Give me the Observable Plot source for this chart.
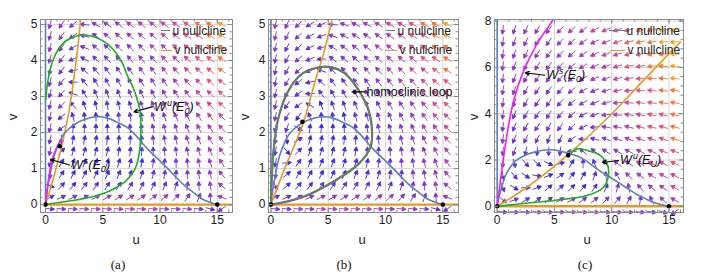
<!DOCTYPE html>
<html><head><meta charset="utf-8">
<script src="https://cdn.jsdelivr.net/npm/d3@7"></script>
<script src="https://cdn.jsdelivr.net/npm/@observablehq/plot@0.6"></script>
<style>
body{margin:0;background:#fff;font-family:"Liberation Sans",Arial,sans-serif;}
#root{position:relative;width:715px;height:276px;overflow:hidden;background:#fff;}
.panel{position:absolute;top:0;}
.lab{position:absolute;font-size:13px;color:#222;width:20px;text-align:center;line-height:16px;}
.cap{position:absolute;font-family:"Liberation Serif",serif;font-size:13px;color:#111;width:30px;text-align:center;line-height:16px;}
.legtxt{position:absolute;font-size:12px;color:#222;line-height:14px;white-space:nowrap;}
.legline{position:absolute;height:0;border-top:1.8px solid;}
</style></head><body><div id="root"></div>
<script>
// ---------- data ----------
const uColsAB = [0.4,1.4,2.4,3.4,4.4,5.4,6.4,7.4,8.4,9.4,10.4,11.4,12.4,13.4,14.4,15.4];
const vRowsAB = [5.0,4.68,4.36,4.04,3.72,3.40,3.08,2.76,2.44,2.12,1.80,1.48,1.16,0.84,0.52,0.20,-0.12];
const uColsC = [0.5,1.5,2.5,3.5,4.5,5.5,6.5,7.5,8.5,9.5,10.5,11.5,12.5,13.5,14.5,15.5];
const vRowsC = [7.62,7.1,6.57,6.05,5.52,5.0,4.47,3.95,3.42,2.9,2.37,1.85,1.32,0.8,0.27,-0.25];

// arrow directions (degrees, counter-clockwise from +u), rows top to bottom
const angA = [
"255 235 220 172 150 145 143 142 142 142 143 145 147 150 152 155",
"255 235 215 165 145 140 139 138 138 139 140 142 144 147 150 153",
"256 234 210 158 140 136 135 134 134 135 136 138 141 144 147 151",
"256 233 203 150 135 132 130 130 130 131 132 135 138 141 144 148",
"257 232 192 140 130 126 125 125 126 127 128 131 134 138 141 146",
"257 231 180 130 122 118 118 119 121 122 124 127 130 134 138 143",
"257 229 160 120 113 110 110 112 115 117 119 123 126 130 135 140",
"258 226 130 108 103 100 102 105 109 111 114 118 122 126 131 137",
"258 220 105 95 92 91 95 98 102 105 108 113 117 122 127 134",
"258 215 88 88 88 90 92 96 100 102 104 107 112 117 122 131",
"258 270 82 80 80 82 85 88 92 95 98 102 107 112 118 128",
"259 45 76 75 76 78 80 83 86 90 93 97 102 107 113 125",
"259 60 70 70 71 73 75 77 80 84 88 92 97 102 108 122",
"270 58 64 64 65 67 68 70 73 76 80 86 92 97 103 130",
"340 48 52 53 55 57 58 60 62 65 68 74 82 92 98 140",
"25 25 26 27 28 30 32 33 35 37 40 45 55 70 95 160",
"-5 -5 -5 -5 -5 -5 -5 -5 -5 -5 -5 -5 -5 -5 -15 215"];
const magA = [
"4433444555667889","4433344455667789","4333334445566788","4332333444556778",
"3322233344556678","3322223334455677","3322222333445667","3321122233445567",
"3211112223344566","3211111223344556","3111111122334456","3111111122233455",
"2111111112233445","2111111112223345","2112222222223344","2233444444433334",
"2344555555444323"];

const angB = [
"258 245 225 212 205 175 160 155 152 150 150 151 152 153 155 157",
"258 244 224 209 200 160 152 148 146 145 145 147 148 150 152 155",
"258 243 223 206 192 150 145 143 141 140 141 143 145 147 149 152",
"259 242 222 203 182 142 140 138 136 136 137 139 141 144 146 150",
"259 241 221 199 160 135 133 132 131 131 133 135 137 140 143 147",
"259 240 219 192 140 127 126 126 125 126 128 131 133 137 140 145",
"259 238 217 182 125 118 118 119 119 121 123 126 129 133 137 142",
"259 236 215 150 110 108 110 111 113 115 118 121 125 129 133 139",
"260 240 235 110 92 96 100 104 106 109 112 116 120 125 129 136",
"260 250 330 84 85 88 92 97 100 103 106 110 115 120 125 133",
"260 275 30 78 79 81 84 88 93 96 100 104 109 115 120 130",
"260 310 45 73 74 76 78 81 86 90 94 98 104 110 115 127",
"260 5 55 68 69 71 73 75 79 84 88 93 98 104 110 124",
"270 40 58 63 64 66 67 69 72 75 80 86 93 99 105 130",
"300 42 50 54 55 57 58 60 62 65 68 74 84 94 100 140",
"25 25 27 27 28 30 32 33 35 38 42 48 58 72 96 160",
"-5 -5 -5 -5 -5 -5 -5 -5 -5 -5 -5 -5 -5 -5 -15 215"];
const magB = [
"4443334455667889","4433333445567789","4333333445566788","3333233344556778",
"3332223344556678","3322222334455677","3322222333445667","3221112233445567",
"3211111223344566","2211111223344556","2111111122334456","2111111122233455",
"2111111112233445","2111111112223345","2112222222223344","2233444444433334",
"2344555555444323"];

const angC = [
"262 252 245 240 235 228 222 215 208 203 200 197 195 193 191 189",
"262 252 245 240 235 228 221 214 207 202 199 196 194 191 189 185",
"262 252 244 239 234 227 220 213 206 201 198 195 192 189 185 179",
"262 251 244 238 234 227 219 212 205 200 197 193 190 185 178 176",
"262 251 243 237 234 227 219 211 204 199 195 191 185 178 176 174",
"262 250 242 236 235 228 219 210 203 197 193 185 177 175 173 172",
"262 250 241 235 236 229 220 209 201 195 185 176 173 172 170 170",
"262 249 240 235 238 231 221 208 198 185 175 172 169 168 167 168",
"262 248 240 237 242 235 224 205 185 170 168 166 165 165 164 166",
"263 247 245 245 250 245 215 180 165 160 160 160 160 161 161 163",
"263 250 258 265 268 262 180 140 140 148 152 154 155 157 158 160",
"265 285 310 320 335 15 60 90 110 130 142 147 150 152 154 157",
"280 310 325 350 20 35 50 60 70 95 120 137 143 147 150 154",
"290 330 0 20 40 42 45 50 55 65 75 100 130 140 145 150",
"320 20 30 35 38 30 30 35 38 45 50 60 80 115 135 150",
"-5 -5 -5 -5 -5 -5 -5 -5 -5 -5 -5 -5 -5 -10 -15 215"];
const magC = [
"4444455566778899","4444445556778899","4444444556677889","4444444555677889",
"4444444455667889","4444334445667788","4433333445567788","4333333344566778",
"3333333334556778","3333222334456678","3322222233455677","3221111223445667",
"3211111123344566","2111111122334456","2222233333333445","2334445554443333"];

// u nullcline (hump), shared by all panels
const uNullU = [0,0.1,0.3,0.75,1.25,1.6,2.1,2.7,3.4,4.2,4.8,5.6,6.3,7.1,7.8,8.5,9.2,9.97,10.7,11.4,12.1,12.9,13.6,14.4,15];
const uNullV = [0,0.28,0.67,1.35,1.76,1.96,2.12,2.26,2.36,2.43,2.44,2.38,2.28,2.15,1.95,1.69,1.45,1.22,0.99,0.76,0.54,0.34,0.17,0.06,0];

// v nullclines
const vNullAU = [0,0.5,1.0,1.5,2.0,2.3,2.6,2.85,3.05];
const vNullAV = [0,0.52,1.1,1.75,2.5,3.1,3.8,4.45,5.1];
const vNullBU = [0,1.25,2.0,2.85,3.87,4.6,5.3];
const vNullBV = [0,1.04,1.6,2.29,3.44,4.2,5.1];
const vNullCU = [0,2.6,6.1,9.88,12.78,16.0];
const vNullCV = [0,0.82,2.19,3.93,5.44,7.1];

// manifolds
const greenAU = [0,1.5,3.4,5,6,7,7.75,8.15,8.32,8.25,7.75,7.1,6.6,5.4,3.9,2.8,1.8,1.0,0.44,0.15,0];
const greenAV = [0,0.07,0.17,0.3,0.44,0.65,0.94,1.35,1.96,2.6,3.17,3.62,4.0,4.46,4.69,4.69,4.55,4.25,3.8,3.3,2.9];
const magentaAU = [0,0.2,0.44,0.73,1.16,1.46];
const magentaAV = [0,0.56,1.03,1.4,1.68,1.79];
const loopBU = [0,2.71,5.62,7.66,8.68,8.83,8.53,7.66,6.5,5.33,4.16,2.71,1.54,0.67,0.23,0.08,0];
const loopBV = [0,0.2,0.67,1.13,1.59,1.96,2.61,3.17,3.63,3.81,3.81,3.63,3.17,2.43,1.5,0.76,0];
const greenCU = [0,2.5,4.93,7.85,9.3,9.73,9.6,9.0,7.85,6.97,6.54,6.2];
const greenCV = [0,0.13,0.25,0.46,0.82,1.4,1.83,2.2,2.41,2.48,2.34,2.19];
const magentaCU = [0,0.44,0.87,1.45,2.32,3.49,4.8,4.85];
const magentaCV = [0,1.69,3.13,4.58,5.87,7.03,8.0,8.07];

// equilibria
const eqAU = [0,15,1.25], eqAV = [0,0,1.62];
const eqBU = [0,15,2.75], eqBV = [0,0,2.3];
const eqCU = [0,15,6.2],  eqCV = [0,0,2.2];

// annotations: label, target point, label anchor point
const annA = [
  {label:"W^s(E_0)", u:0.44, v:1.25, tu:2.1, tv:1.1},
  {label:"W^u(E_0)", u:7.72, v:2.57, tu:9.35, tv:2.72}];
const annB = [{label:"homoclinic loop", u:7.08, v:3.13, tu:8.2, tv:3.13}];
const annC = [
  {label:"W^s(E_0)", u:2.44, v:5.77, tu:4.15, tv:5.66},
  {label:"W^u(E_U)", u:9.18, v:1.89, tu:10.6, tv:1.98}];

const xTicks = [0,5,10,15];
const yTicksAB = [0,1,2,3,4,5];
const yTicksC = [0,2,4,6,8];

// ---------- drawing ----------
const BLUE = "#5e81b5", ORANGE = "#e19c24", GREEN = "#1fae1f", MAGENTA = "#f020f0";
const palette = ["#3624e2","#4328da","#5d2fd3","#7633cb","#8e37c1","#a73cb3","#c5439c","#e0527a","#f0743f","#f5a22a"];

const pts = (us, vs) => us.map((u, i) => ({u, v: vs[i]}));
function buildField(us, vs, angRows, magRows) {
  const out = [];
  vs.forEach((v, i) => {
    const angs = angRows[i].trim().split(/\s+/).map(Number);
    const mags = magRows[i].split("").map(Number);
    us.forEach((u, j) => out.push({u, v, a: angs[j], m: mags[j]}));
  });
  return out;
}
const arrowShape = {
  draw(ctx, l) {
    const h = 3.5, w = 1.85;
    ctx.moveTo(0, 0); ctx.lineTo(0, -l + h * 0.7);
    ctx.moveTo(-w, -l + h); ctx.lineTo(0, -l); ctx.lineTo(w, -l + h); ctx.closePath();
  }
};

function richify(svg) {
  d3.select(svg).selectAll("text").each(function() {
    const t = this.textContent;
    if (!/[\^_]/.test(t)) return;
    const parts = t.split(/([\^_]\w)/).filter(s => s);
    this.textContent = "";
    let cur = 0;
    for (const p of parts) {
      const ts = d3.select(this).append("tspan");
      let target = 0, txt = p, fs = null, dx = 0;
      if (p[0] === "^") { target = -5; txt = p.slice(1); fs = "9px"; dx = 1; }
      else if (p[0] === "_") { target = 3; txt = p.slice(1); fs = "9px"; }
      ts.attr("dy", (target - cur) + "px").text(txt);
      if (dx) ts.attr("dx", dx + "px");
      if (fs) ts.attr("font-size", fs);
      cur = target;
    }
  });
}

function makePanel(cfg) {
  const H = 276, mT = 19, mB = 64;
  const fh = H - mT - mB;
  const fw = cfg.width - cfg.mL - cfg.mR;
  const tickStroke = "#8c8c8c";
  const marks = [
    Plot.gridX({ticks: xTicks, stroke: "#d2d2d2", strokeOpacity: 1, strokeWidth: 0.9}),
    Plot.gridY({ticks: cfg.yTicks, stroke: "#d2d2d2", strokeOpacity: 1, strokeWidth: 0.9}),
    Plot.axisX({ticks: xTicks, tickSize: 0, tickPadding: 3, tickFormat: "d", label: null}),
    Plot.axisY({ticks: cfg.yTicks, tickSize: 0, tickPadding: 3, tickFormat: "d", label: null}),
    Plot.vector(cfg.field, {x: "u", y: "v", rotate: d => 90 - d.a, length: 9, anchor: "middle",
      stroke: "m", fill: "m", strokeWidth: 0.85, shape: arrowShape}),
    Plot.ruleY([0], {x1: 0, x2: cfg.xDom[1], stroke: ORANGE, strokeWidth: 2.4}),
    Plot.ruleX([0], {y1: 0, y2: cfg.yDom[1], stroke: BLUE, strokeWidth: 1.6}),
    Plot.line(cfg.vNull, {x: "u", y: "v", stroke: ORANGE, strokeWidth: 1.6, curve: "catmull-rom"}),
    Plot.line(pts(uNullU, uNullV), {x: "u", y: "v", stroke: BLUE, strokeWidth: 1.6, curve: "catmull-rom"}),
    ...cfg.curves,
    Plot.dot(cfg.eq, {x: "u", y: "v", r: 2.3, fill: "black"}),
    Plot.frame({stroke: tickStroke, strokeWidth: 1}),
    Plot.tickX(cfg.xMinor, {x: d => d, insetTop: fh - 2.5, stroke: tickStroke}),
    Plot.tickX(cfg.xMinor, {x: d => d, insetBottom: fh - 2.5, stroke: tickStroke}),
    Plot.tickX(xTicks, {x: d => d, insetTop: fh - 4.5, stroke: tickStroke}),
    Plot.tickX(xTicks, {x: d => d, insetBottom: fh - 4.5, stroke: tickStroke}),
    Plot.tickY(cfg.yMinor, {y: d => d, insetRight: fw - 2.5, stroke: tickStroke}),
    Plot.tickY(cfg.yMinor, {y: d => d, insetLeft: fw - 2.5, stroke: tickStroke}),
    Plot.tickY(cfg.yTicks, {y: d => d, insetRight: fw - 4.5, stroke: tickStroke}),
    Plot.tickY(cfg.yTicks, {y: d => d, insetLeft: fw - 4.5, stroke: tickStroke}),
    Plot.arrow(cfg.ann, {x1: "tu", y1: "tv", x2: "u", y2: "v", stroke: "black", strokeWidth: 1.1, headLength: 6, headAngle: 50}),
    Plot.text(cfg.ann, {x: "tu", y: "tv", text: "label", textAnchor: "start", dx: 1.5, fill: "#111",
      fontSize: 12.5, fontStyle: cfg.italic ? "italic" : "normal"})
  ];
  const svg = Plot.plot({
    width: cfg.width, height: H, marginTop: mT, marginBottom: mB, marginLeft: cfg.mL, marginRight: cfg.mR,
    x: {domain: cfg.xDom}, y: {domain: cfg.yDom},
    color: {type: "linear", domain: [0,1,2,3,4,5,6,7,8,9], range: palette, clamp: true},
    style: {fontFamily: "Liberation Sans, Arial, sans-serif", fontSize: "12px", color: "#222", background: "transparent", overflow: "visible"},
    marks
  });
  richify(svg);
  svg.classList.add("panel");
  svg.style.position = "absolute";
  svg.style.left = cfg.left + "px";
  svg.style.top = "0px";
  return svg;
}

const xMinor = d3.range(0, 17);
const root = document.getElementById("root");

root.appendChild(makePanel({
  left: 0, width: 240, mL: 40, mR: 8, xDom: [-0.437, 16.33], yDom: [-0.22, 5.14],
  yTicks: yTicksAB, xMinor, yMinor: d3.range(0, 5.01, 0.2),
  field: buildField(uColsAB, vRowsAB, angA, magA),
  vNull: pts(vNullAU, vNullAV),
  curves: [
    Plot.line(pts(greenAU, greenAV), {x: "u", y: "v", stroke: GREEN, strokeWidth: 1.6, curve: "catmull-rom"}),
    Plot.line(pts(magentaAU, magentaAV), {x: "u", y: "v", stroke: MAGENTA, strokeWidth: 1.6, curve: "catmull-rom"})
  ],
  eq: pts(eqAU, eqAV), ann: annA, italic: true
}));
root.appendChild(makePanel({
  left: 236, width: 230, mL: 32, mR: 8, xDom: [-0.21, 16.37], yDom: [-0.22, 5.14],
  yTicks: yTicksAB, xMinor, yMinor: d3.range(0, 5.01, 0.2),
  field: buildField(uColsAB, vRowsAB, angB, magB),
  vNull: pts(vNullBU, vNullBV),
  curves: [
    Plot.line(pts(loopBU, loopBV), {x: "u", y: "v", stroke: MAGENTA, strokeWidth: 2.2, curve: "catmull-rom"}),
    Plot.line(pts(loopBU, loopBV), {x: "u", y: "v", stroke: GREEN, strokeWidth: 1.5, curve: "catmull-rom"})
  ],
  eq: pts(eqBU, eqBV), ann: annB, italic: false
}));
root.appendChild(makePanel({
  left: 468, width: 230, mL: 26, mR: 15, xDom: [-0.235, 16.27], yDom: [-0.27, 8.07],
  yTicks: yTicksC, xMinor, yMinor: d3.range(0, 8.01, 0.4),
  field: buildField(uColsC, vRowsC, angC, magC),
  vNull: pts(vNullCU, vNullCV),
  curves: [
    Plot.line(pts(greenCU, greenCV), {x: "u", y: "v", stroke: GREEN, strokeWidth: 1.6, curve: "catmull-rom"}),
    Plot.line(pts(magentaCU, magentaCV), {x: "u", y: "v", stroke: MAGENTA, strokeWidth: 1.6, curve: "catmull-rom"})
  ],
  eq: pts(eqCU, eqCV), ann: annC, italic: true
}));

// axis labels, captions, legends (layout only)
function addDiv(cls, html, left, top, extra) {
  const d = document.createElement("div");
  d.className = cls; d.innerHTML = html;
  d.style.left = left + "px"; d.style.top = top + "px";
  if (extra) Object.assign(d.style, extra);
  root.appendChild(d);
  return d;
}
[[136,"u"],[362,"u"],[587,"u"]].forEach(([x,t]) => addDiv("lab", t, x - 10, 232));
[13, 245, 474].forEach(x => addDiv("lab", "v", x - 10, 109, {transform: "rotate(-90deg)"}));
[[118,"(a)"],[344,"(b)"],[585,"(c)"]].forEach(([x,t]) => addDiv("cap", t, x - 15, 257));
const legends = [
  {x1: 161, x2: 170, tx: 172.5, y: 31, color: BLUE, text: "u nullcline"},
  {x1: 161, x2: 172, tx: 174.5, y: 50.5, color: ORANGE, text: "v nullcline"},
  {x1: 386, x2: 395, tx: 397.5, y: 31, color: BLUE, text: "u nullcline"},
  {x1: 385, x2: 397, tx: 399.5, y: 50.5, color: ORANGE, text: "v nullcline"},
  {x1: 609, x2: 626, tx: 626.5, y: 31, color: BLUE, text: "u nullcline"},
  {x1: 610, x2: 625, tx: 627.5, y: 50.5, color: ORANGE, text: "v nullcline"}];
legends.forEach(l => {
  addDiv("legline", "", l.x1, l.y - 0.9, {width: (l.x2 - l.x1) + "px", borderTopColor: l.color});
  addDiv("legtxt", l.text, l.tx, l.y - 7.5);
});
</script></body></html>
